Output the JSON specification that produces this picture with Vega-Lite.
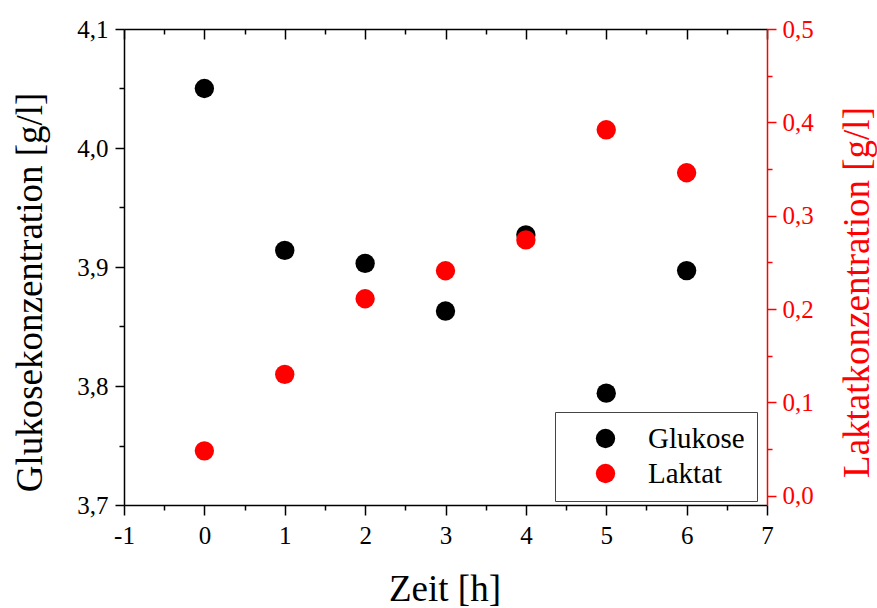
{
  "$schema": "https://vega.github.io/schema/vega-lite/v6.json",
  "width": 643,
  "height": 476,
  "autosize": {"type": "none"},
  "padding": {"left": 124, "top": 29, "right": 110, "bottom": 103},
  "background": "white",
  "config": {
    "view": {"stroke": null},
    "font": "Liberation Serif",
    "axis": {
      "grid": false,
      "domainColor": "black",
      "domainWidth": 1.5,
      "tickColor": "black",
      "tickWidth": 1.5,
      "labelFont": "Liberation Serif",
      "labelFontSize": 25,
      "labelColor": "black",
      "titleFont": "Liberation Serif",
      "titleFontSize": 37,
      "titleFontWeight": "normal",
      "titleColor": "black",
      "labelOverlap": false,
      "labelFlush": false
    }
  },
  "data": {
    "values": [
      {"t": 0, "Substanz": "Glukose", "c": 4.050},
      {"t": 1, "Substanz": "Glukose", "c": 3.914},
      {"t": 2, "Substanz": "Glukose", "c": 3.903},
      {"t": 3, "Substanz": "Glukose", "c": 3.863},
      {"t": 4, "Substanz": "Glukose", "c": 3.927},
      {"t": 5, "Substanz": "Glukose", "c": 3.794},
      {"t": 6, "Substanz": "Glukose", "c": 3.897},
      {"t": 0, "Substanz": "Laktat", "c": 0.048},
      {"t": 1, "Substanz": "Laktat", "c": 0.130},
      {"t": 2, "Substanz": "Laktat", "c": 0.211},
      {"t": 3, "Substanz": "Laktat", "c": 0.241},
      {"t": 4, "Substanz": "Laktat", "c": 0.274},
      {"t": 5, "Substanz": "Laktat", "c": 0.392},
      {"t": 6, "Substanz": "Laktat", "c": 0.346}
    ]
  },
  "layer": [
    {
      "transform": [{"filter": "datum.Substanz === 'Glukose'"}],
      "mark": {"type": "circle", "size": 375, "opacity": 1},
      "encoding": {
        "x": {
          "field": "t",
          "type": "quantitative",
          "scale": {"domain": [-1, 7], "nice": false, "zero": false},
          "axis": {
            "orient": "bottom",
            "values": [-1, -0.5, 0, 0.5, 1, 1.5, 2, 2.5, 3, 3.5, 4, 4.5, 5, 5.5, 6, 6.5, 7],
            "labelExpr": "datum.value % 1 === 0 ? (datum.value < 0 ? '-' + abs(datum.value) : '' + datum.value) : ''",
            "tickSize": {"condition": {"test": "datum.value % 1 !== 0", "value": 5}, "value": 10},
            "labelPadding": 8,
            "title": "Zeit [h]",
            "titleX": 320.5,
            "titleY": 95,
            "titleBaseline": "alphabetic",
            "titleAlign": "center"
          }
        },
        "y": {
          "field": "c",
          "type": "quantitative",
          "scale": {"domain": [3.7, 4.1], "nice": false, "zero": false},
          "axis": {
            "orient": "left",
            "values": [3.7, 3.75, 3.8, 3.85, 3.9, 3.95, 4.0, 4.05, 4.1],
            "labelExpr": "abs(datum.value * 10 - round(datum.value * 10)) > 0.01 ? '' : replace(format(datum.value, '.1f'), '.', ',')",
            "tickSize": {"condition": {"test": "abs(datum.value * 10 - round(datum.value * 10)) > 0.01", "value": 5}, "value": 9},
            "labelPadding": 7,
            "title": "Glukosekonzentration [g/l]",
            "titleX": -83,
            "titleY": 263,
            "titleAngle": -90,
            "titleBaseline": "alphabetic",
            "titleAlign": "center"
          }
        },
        "color": {
          "field": "Substanz",
          "type": "nominal",
          "scale": {"domain": ["Glukose", "Laktat"], "range": ["#000000", "#ff0000"]},
          "legend": {
            "orient": "none",
            "legendX": 431,
            "legendY": 383,
            "title": null,
            "padding": 12,
            "strokeColor": "#444444",
            "fillColor": "white",
            "symbolType": "circle",
            "symbolSize": 375,
            "symbolOpacity": 1,
            "symbolStrokeWidth": 0,
            "symbolOffset": 24,
            "labelOffset": 28,
            "labelFont": "Liberation Serif",
            "labelFontSize": 29,
            "labelColor": "black",
            "rowPadding": 5
          }
        }
      }
    },
    {
      "transform": [{"filter": "datum.Substanz === 'Laktat'"}],
      "mark": {"type": "circle", "size": 375, "opacity": 1},
      "encoding": {
        "x": {
          "field": "t",
          "type": "quantitative",
          "axis": {
            "orient": "top",
            "values": [-1, -0.5, 0, 0.5, 1, 1.5, 2, 2.5, 3, 3.5, 4, 4.5, 5, 5.5, 6, 6.5, 7],
            "labels": false,
            "tickSize": {"condition": {"test": "datum.value % 1 !== 0", "value": -5}, "value": -10},
            "title": null
          }
        },
        "y": {
          "field": "c",
          "type": "quantitative",
          "scale": {"domain": [-0.01, 0.5], "nice": false, "zero": false},
          "axis": {
            "orient": "right",
            "values": [0, 0.05, 0.1, 0.15, 0.2, 0.25, 0.3, 0.35, 0.4, 0.45, 0.5],
            "labelExpr": "abs(datum.value * 10 - round(datum.value * 10)) > 0.01 ? '' : replace(format(datum.value, '.1f'), '.', ',')",
            "tickSize": {"condition": {"test": "abs(datum.value * 10 - round(datum.value * 10)) > 0.01", "value": 5}, "value": 9},
            "labelPadding": 6,
            "domainColor": "#ff0000",
            "tickColor": "#ff0000",
            "labelColor": "#ff0000",
            "titleColor": "#ff0000",
            "title": "Laktatkonzentration [g/l]",
            "titleX": 101,
            "titleY": 263,
            "titleAngle": 270,
            "titleBaseline": "alphabetic",
            "titleAlign": "center"
          }
        },
        "color": {"field": "Substanz", "type": "nominal"}
      }
    }
  ],
  "resolve": {"scale": {"y": "independent"}, "axis": {"x": "independent"}}
}
